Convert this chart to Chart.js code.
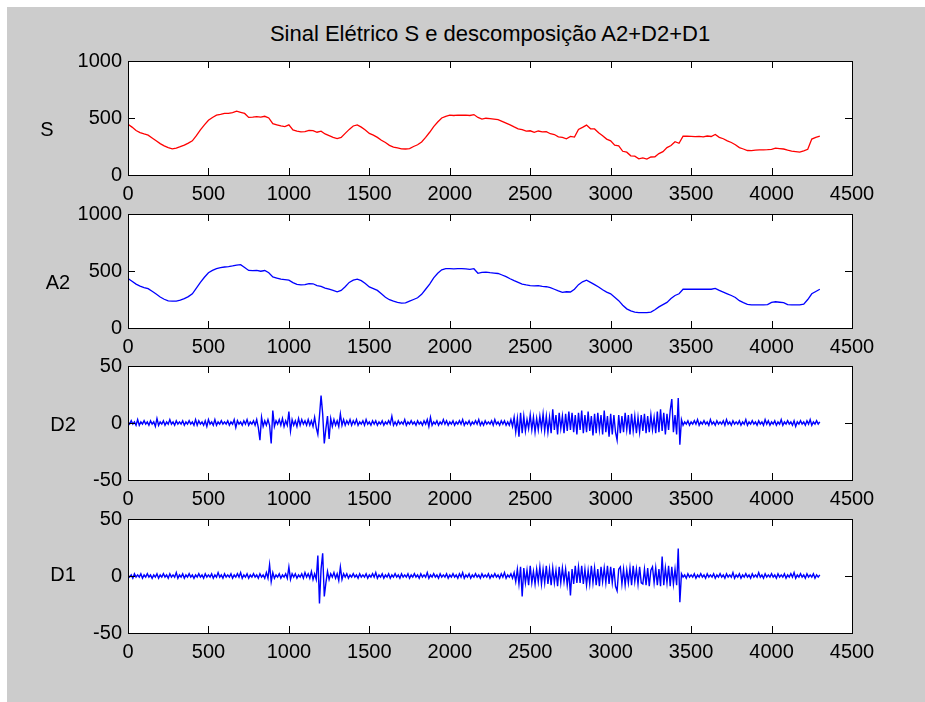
<!DOCTYPE html>
<html>
<head>
<meta charset="utf-8">
<script src="https://cdn.jsdelivr.net/npm/chart.js@4.4.1/dist/chart.umd.min.js"></script>
<style>
  body { margin: 0; background: #fff; width: 925px; height: 702px; overflow: hidden; position: relative; }
  #fig { position: absolute; left: 7px; top: 7px; width: 918px; height: 695px; background: #cccccc; }
  #title { position: absolute; left: 0; width: 980px; top: 21px; text-align: center;
           font: 22px "Liberation Sans", Arial, sans-serif; color: #000; }
  canvas { position: absolute; left: 20px; }
</style>
</head>
<body>
<div id="fig"></div>
<div id="title">Sinal Elétrico S e descomposição A2+D2+D1</div>
<canvas id="c0" width="905" height="156"></canvas>
<canvas id="c1" width="905" height="156"></canvas>
<canvas id="c2" width="905" height="156"></canvas>
<canvas id="c3" width="905" height="156"></canvas>
<script>
// amostras
const S_STEP = 25;   // passo das séries S e A2
const D_STEP = 10;   // passo das séries D2 e D1

const sinalS = [
  445, 420, 390, 372, 360, 350, 325, 300,
  275, 255, 240, 230, 235, 248, 262, 280,
  300, 345, 395, 440, 480, 505, 525, 532,
  540, 540, 548, 560, 550, 540, 505, 508,
  512, 508, 515, 500, 450, 440, 430, 425,
  440, 395, 385, 378, 380, 392, 390, 375,
  385, 360, 345, 330, 320, 330, 365, 400,
  430, 440, 420, 395, 365, 350, 330, 305,
  285, 260, 245, 238, 230, 228, 232, 250,
  265, 290, 330, 375, 425, 465, 500, 515,
  525, 522, 525, 524, 525, 522, 530, 505,
  490, 498, 495, 490, 485, 470, 455, 440,
  422, 405, 398, 385, 388, 375, 386, 378,
  380, 362, 355, 335, 330, 318, 338, 332,
  400, 418, 438, 405, 404, 370, 345, 315,
  300, 262, 255, 208, 200, 168, 165, 142,
  150, 140, 158, 160, 188, 205, 240, 258,
  292, 278, 340, 340, 338, 336, 338, 334,
  342, 338, 355, 330, 318, 300, 285, 265,
  240, 228, 215, 214, 218, 220, 220, 222,
  225, 235, 232, 228, 218, 210, 205, 200,
  212, 225, 315, 330, 340
];

const aproxA2 = [
  435, 410, 385, 368, 355, 345, 322, 298,
  272, 252, 238, 235, 236, 245, 258, 275,
  300, 350, 400, 445, 485, 505, 520, 530,
  535, 538, 544, 552, 556, 530, 505, 503,
  506, 498, 504, 485, 448, 438, 428, 424,
  420, 398, 382, 378, 380, 390, 388, 372,
  365, 350, 340, 330, 318, 330, 362, 400,
  420, 428, 415, 390, 360, 345, 330, 300,
  270, 248, 235, 225, 218, 220, 235, 250,
  265, 295, 340, 385, 440, 480, 510, 520,
  520, 518, 520, 520, 518, 515, 520, 480,
  488, 490, 485, 482, 478, 465, 450, 432,
  415, 400, 385, 378, 372, 370, 372, 365,
  362, 355, 340, 325, 312, 318, 316, 340,
  380, 405, 420, 400, 380, 360, 335, 315,
  300, 270, 240, 200, 168, 150, 140, 135,
  134, 134, 140, 160, 185, 205, 225, 258,
  285, 300, 340, 340, 340, 340, 340, 340,
  340, 340, 348, 330, 315, 300, 285, 268,
  240, 222, 208, 202, 202, 202, 202, 205,
  225, 230, 226, 222, 205, 202, 202, 202,
  210, 250, 300, 320, 340
];

const detD2 = [
  1, -1, 2, -1, 1, -2, 3, -2, 1, -1, 2, -1, 1, -2, 2, -1, 1, -3, 4, -2,
  1, -1, 2, -2, 1, -1, 3, -1, 1, -2, 2, -1, 1, -1, 2, -2, 1, -1, 2, -1,
  1, -2, 3, -2, 2, -1, 1, -2, 2, -3, 3, -1, 1, -2, 3, -2, 1, -1, 2, -1,
  1, -1, 2, -2, 1, -1, 3, -4, 2, -1, 1, -2, 2, -1, 3, -2, 1, -1, 2, -2,
  3, -4, -15, 5, -3, 2, -2, 3, -2, -18, 11, -3, 2, -1, 3, -2, 4, -3, 2, -2,
  10, -7, 3, -2, 2, -3, 4, -2, 3, -1, 2, -2, 3, -2, 2, -3, 5, -4, -10, 6,
  24, 8, -18, -5, 6, -14, 4, -3, 3, -2, 2, -3, 8, -2, 3, -2, 2, -1, 3, -2,
  2, -1, 3, -2, 1, -1, 2, -2, 3, -1, 1, -2, 2, -1, 2, -2, 1, -1, 2, -2,
  1, -1, 2, -1, 6, -2, 1, -2, 2, -1, 1, -1, 3, -2, 1, -1, 2, -1, 1, -2,
  2, -1, 1, -2, 2, -1, 3, -3, 5, -2, 1, -1, 2, -2, 1, -1, 3, -1, 2, -2,
  1, -1, 2, -2, 1, -1, 2, -1, 3, -2, 1, -1, 2, -2, 1, -1, 2, -1, 3, -2,
  1, -2, 2, -1, 1, -1, 2, -2, 3, -1, 1, -2, 2, -1, 2, -2, 1, -2, 3, -3,
  5, -8, 4, -12, 9, -9, 6, -7, 3, -5, 7, -6, 5, -8, 4, -6, 6, -5, 8, -7,
  6, -8, 5, -9, 12, -6, 7, -10, 9, -5, 6, -9, 8, -7, 10, -6, 9, -8, 7, -10,
  9, -6, 11, -9, 7, -8, 10, -7, 6, -11, 8, -9, 9, -6, 7, -10, 11, -8, 6, -12,
  8, -10, 7, -8, -15, 7, -9, 6, -8, 9, -6, 7, -10, 8, -7, 6, -9, 5, -8, 7,
  -7, 8, -9, 6, -8, 7, -6, 5, -9, 10, -8, 12, -7, 9, -10, 8, -6, 11, 21, -8,
  7, -10, 22, -19, 3, -2, 1, -1, 2, -2, 1, -1, 2, -1, 3, -2, 1, -1, 2, -1,
  1, -2, 3, -1, 1, -2, 2, -1, 1, -1, 2, -2, 3, -1, 1, -2, 2, -1, 1, -1,
  2, -2, 1, -1, 3, -2, 1, -1, 2, -1, 1, -2, 2, -1, 1, -2, 3, -1, 2, -2,
  1, -1, 2, -2, 1, -1, 3, -2, 1, -1, 2, -1, 1, -2, 2, -3, 1, -1, 2, -1,
  1, -2, 2, -1, 3, -2, 1, -1, 2, -1, 1
];

const detD1 = [
  1, -1, 1, -2, 2, -1, 1, -1, 2, -2, 1, -1, 2, -1, 1, -2, 1, -1, 2, -2,
  1, -1, 2, -1, 1, -2, 2, -1, 1, -1, 3, -2, 1, -1, 2, -2, 1, -1, 2, -1,
  1, -2, 1, -1, 2, -1, 1, -2, 2, -1, 1, -1, 2, -2, 1, -1, 3, -1, 1, -2,
  2, -1, 1, -1, 2, -2, 1, -1, 2, -1, 3, -2, 1, -1, 2, -2, 1, -1, 2, -1,
  1, -2, 2, -1, 1, -2, 3, -2, 10, -5, 3, -2, 1, -1, 2, -2, 1, -1, 2, -2,
  8, -3, 2, -1, 2, -2, 1, -1, 2, -2, 3, -1, 2, -2, 4, -3, 2, -3, 18, -24,
  6, 20, -18, -6, 4, -3, 2, -1, 3, -2, 2, -4, 8, -3, 2, -1, 2, -2, 1, -1,
  2, -1, 1, -2, 2, -1, 1, -1, 2, -2, 1, -1, 2, -1, 3, -2, 1, -1, 2, -2,
  1, -1, 2, -2, 1, -1, 2, -1, 1, -2, 2, -1, 1, -1, 2, -2, 1, -1, 2, -1,
  1, -2, 2, -1, 1, -1, 3, -2, 1, -1, 2, -1, 1, -2, 2, -1, 1, -1, 2, -2,
  1, -1, 2, -1, 1, -2, 2, -1, 3, -2, 1, -1, 2, -2, 1, -1, 2, -1, 1, -2,
  2, -1, 1, -1, 2, -2, 1, -1, 2, -1, 1, -2, 2, -1, 3, -2, 1, -1, 2, -2,
  3, -5, 6, -7, 8, -18, 7, -6, 5, -8, 9, -6, 4, -7, 6, -5, 8, -7, 6, -6,
  9, -7, 6, -8, 7, -6, 5, -9, 8, -6, 7, -5, 6, -8, 4, -17, 6, -7, 9, -6,
  8, -6, 9, -7, 6, -8, 5, -7, 9, -6, 7, -8, 6, -9, 8, -5, 7, -6, 9, -7,
  8, -6, 7, -9, -13, 6, 8, -7, 6, -8, 5, -6, 7, -8, 9, -5, 6, -7, 8, -6,
  -7, 6, -8, 7, -9, 5, 8, -6, 7, -8, 6, -9, 17, -8, 7, -6, 9, -9, 8, -7,
  6, -8, 24, -23, 2, -1, 1, -2, 2, -1, 1, -1, 2, -2, 1, -1, 2, -1, 1, -2,
  2, -1, 1, -1, 2, -2, 1, -1, 2, -1, 1, -2, 2, -1, 1, -1, 3, -2, 1, -1,
  2, -2, 1, -1, 2, -1, 1, -2, 2, -1, 1, -1, 3, -1, 1, -2, 2, -1, 1, -1,
  2, -1, 1, -2, 2, -1, 1, -1, 2, -2, 1, -1, 2, -1, 3, -2, 1, -1, 2, -1,
  1, -2, 2, -1, 1, -1, 2, -2, 1, -1, 1
];

const yLabels = ["S", "A2", "D2", "D1"];
const xTicks = [0, 500, 1000, 1500, 2000, 2500, 3000, 3500, 4000, 4500];

// posição dos eixos na página
const axTop = [61, 214, 366, 519];
const PAD_TOP = 12;

Chart.defaults.font.family = '"Liberation Sans", Arial, sans-serif';
Chart.defaults.font.size = 20;
Chart.defaults.color = "#000";

// caixa branca, ticks para dentro e rótulo horizontal do eixo y
const matlabBox = {
  id: "matlabBox",
  beforeDraw(chart) {
    const { ctx, chartArea: a } = chart;
    ctx.save();
    ctx.fillStyle = "#fff";
    ctx.fillRect(a.left, a.top, a.width, a.height);
    ctx.restore();
  },
  afterDraw(chart, args, opts) {
    const { ctx, chartArea: a, scales } = chart;
    ctx.save();
    ctx.strokeStyle = "#000";
    ctx.lineWidth = 1;
    ctx.strokeRect(a.left + 0.5, a.top + 0.5, a.width, a.height);
    ctx.beginPath();
    scales.x.ticks.forEach((t) => {
      const px = Math.round(scales.x.getPixelForValue(t.value)) + 0.5;
      ctx.moveTo(px, a.bottom);
      ctx.lineTo(px, a.bottom - 7);
      ctx.moveTo(px, a.top);
      ctx.lineTo(px, a.top + 7);
    });
    scales.y.ticks.forEach((t) => {
      const py = Math.round(scales.y.getPixelForValue(t.value)) + 0.5;
      ctx.moveTo(a.left, py);
      ctx.lineTo(a.left + 7, py);
      ctx.moveTo(a.right, py);
      ctx.lineTo(a.right - 7, py);
    });
    ctx.stroke();
    ctx.fillStyle = "#000";
    ctx.font = '20px "Liberation Sans", Arial, sans-serif';
    ctx.textAlign = "center";
    ctx.textBaseline = "middle";
    ctx.fillText(opts.label, a.left + opts.dx, a.top + opts.dy);
    ctx.restore();
  },
};

function makeChart(id, idx, values, step, color, yMin, yMax, yStep, lw, ldx, ldy) {
  const canvas = document.getElementById(id);
  canvas.style.top = axTop[idx] - PAD_TOP + "px";
  return new Chart(canvas, {
    type: "line",
    data: {
      datasets: [
        {
          data: values.map((v, i) => ({ x: i * step, y: v })),
          borderColor: color,
          borderWidth: lw,
          pointRadius: 0,
          tension: 0,
        },
      ],
    },
    options: {
      responsive: false,
      animation: false,
      layout: { padding: { top: PAD_TOP, right: 73, left: 0, bottom: 0 } },
      scales: {
        x: {
          type: "linear",
          min: 0,
          max: 4500,
          afterBuildTicks: (s) => { s.ticks = xTicks.map((v) => ({ value: v })); },
          afterFit: (s) => {
            s.height = 30;
            s.paddingLeft = 0;
            s.paddingRight = 0;
          },
          grid: { display: false, drawTicks: false },
          border: { display: false },
          ticks: { padding: 7, maxRotation: 0, autoSkip: false, callback: (v) => String(v) },
        },
        y: {
          min: yMin,
          max: yMax,
          ticks: { stepSize: yStep, padding: 6, callback: (v) => String(v) },
          afterFit: (s) => {
            s.width = 108;
            s.paddingTop = 0;
            s.paddingBottom = 0;
          },
          grid: { display: false, drawTicks: false },
          border: { display: false },
        },
      },
      plugins: {
        legend: { display: false },
        tooltip: { enabled: false },
        matlabBox: { label: yLabels[idx], dx: ldx, dy: ldy },
      },
    },
    plugins: [matlabBox],
  });
}

makeChart("c0", 0, sinalS, S_STEP, "#ff0000", 0, 1000, 500, 1.3, -81, 69);
makeChart("c1", 1, aproxA2, S_STEP, "#0000ff", 0, 1000, 500, 1.3, -70, 69);
makeChart("c2", 2, detD2, D_STEP, "#0000ff", -50, 50, 50, 1.4, -65, 59);
makeChart("c3", 3, detD1, D_STEP, "#0000ff", -50, 50, 50, 1.4, -65, 56);
</script>
</body>
</html>
